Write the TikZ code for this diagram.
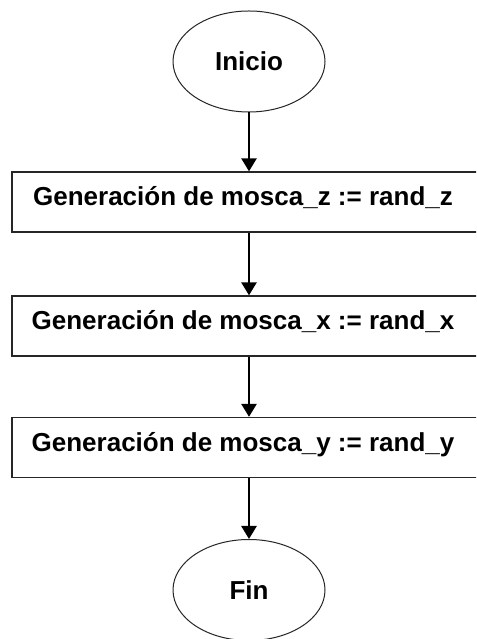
\documentclass[tikz,border=0pt]{standalone}
\usepackage{fontspec}
\setmainfont{Liberation Sans}
\usetikzlibrary{shapes.geometric,arrows.meta}
\begin{document}
\begin{tikzpicture}[x=1pt,y=1pt,
  term/.style={ellipse,draw=black!85,line width=1pt,minimum width=152pt,minimum height=101pt,inner sep=0pt,font=\fontsize{26}{30}\selectfont\bfseries},
  procbox/.style={rectangle,draw=black!85,line width=1.3pt,minimum width=474pt,minimum height=60pt,inner sep=0pt,font=\fontsize{26}{30}\selectfont\bfseries,text height=18pt,text depth=10pt},
  flow/.style={line width=2.6pt,-{Triangle[width=15pt,length=13pt]}}]
\useasboundingbox (0,0) rectangle (476,639);
\fill[white] (0,0) rectangle (476,639);
\clip (0,0) rectangle (476,639);
\node[term] (ini) at (249,577.5) {Inicio};
\node[procbox] (b1) at (249,437) {\hspace*{-12pt}Generación de mosca\_z := rand\_z};
\node[procbox] (b2) at (249,313) {\hspace*{-12pt}Generación de mosca\_x := rand\_x};
\node[procbox] (b3) at (249,191.5) {\hspace*{-12pt}Generación de mosca\_y := rand\_y};
\node[term] (fin) at (249,49) {Fin};
\draw[flow] (ini.south) -- (b1.north);
\draw[flow] (b1.south) -- (b2.north);
\draw[flow] (b2.south) -- (b3.north);
\draw[flow] (b3.south) -- (fin.north);
\end{tikzpicture}
\end{document}
